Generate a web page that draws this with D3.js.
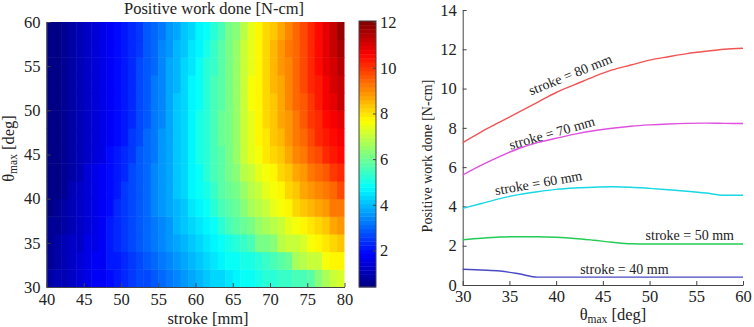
<!DOCTYPE html>
<html><head><meta charset="utf-8">
<script src="https://cdn.jsdelivr.net/npm/d3@7/dist/d3.min.js"></script>
<style>
html,body{margin:0;padding:0;background:#fff;}
svg text{font-family:"Liberation Serif","Times New Roman",serif;fill:#222;}
</style></head>
<body>
<svg id="chart" width="754" height="327"></svg>
<script>
// ---------- DATA ----------
const strokes = [40,41,42,43,44,45,46,47,48,49,50,51,52,53,54,55,56,57,58,59,60,61,62,63,64,65,66,67,68,69,70,71,72,73,74,75,76,77,78,79];
const thetas = [30,32,34,36,38,40,42,44,46,48,50,52,54,56,58];
const work30 = [0.8,0.95,1.1,1.25,1.4,1.55,1.7,1.85,2.0,2.15,2.3,2.45,2.6,2.75,2.9,3.1,3.25,3.4,3.6,3.75,3.95,4.1,4.25,4.4,4.55,4.75,4.85,4.95,5.05,5.15,5.3,5.4,5.45,5.5,5.6,5.7,6.3,6.7,7.0,7.2];
const work32 = [0.76,0.9,1.05,1.2,1.35,1.5,1.7,1.85,2.05,2.2,2.38,2.55,2.7,2.85,3.0,3.2,3.35,3.55,3.75,3.9,4.1,4.3,4.5,4.65,4.8,4.9,5.0,5.1,5.2,5.35,5.6,5.8,6.0,6.6,6.8,7.0,7.1,7.5,7.7,7.8];
const work34 = [0.72,0.86,1.0,1.15,1.3,1.5,1.65,1.85,2.05,2.25,2.44,2.6,2.8,2.95,3.15,3.35,3.55,3.75,3.95,4.15,4.35,4.55,4.75,4.9,5.1,5.3,5.45,5.6,6.1,6.2,6.4,6.8,7.0,7.1,7.25,7.6,7.75,7.9,8.2,8.35];
const work36 = [0.6,0.75,0.9,1.05,1.25,1.45,1.65,1.85,2.05,2.25,2.46,2.65,2.85,3.05,3.25,3.45,3.65,3.9,4.1,4.3,4.55,4.75,4.95,5.15,5.5,5.7,5.9,6.2,6.45,6.75,6.9,7.05,7.4,7.55,7.7,7.95,8.1,8.4,8.6,8.8];
const work38 = [0.42,0.6,0.78,0.98,1.18,1.4,1.6,1.82,2.02,2.24,2.46,2.68,2.9,3.1,3.32,3.54,3.76,4.0,4.22,4.46,4.7,4.95,5.2,5.5,5.8,6.0,6.3,6.6,6.9,7.1,7.35,7.6,7.85,8.1,8.3,8.5,8.75,8.95,9.15,9.3];
const work40 = [0.4,0.58,0.76,0.95,1.15,1.35,1.56,1.78,2.0,2.22,2.45,2.68,2.9,3.12,3.35,3.58,3.82,4.08,4.34,4.6,4.85,5.1,5.4,5.7,6.0,6.2,6.5,6.8,7.1,7.35,7.6,7.85,8.1,8.35,8.6,8.8,9.05,9.3,9.5,9.7];
const work42 = [0.4,0.57,0.75,0.93,1.12,1.32,1.52,1.73,1.95,2.17,2.4,2.63,2.86,3.1,3.34,3.58,3.84,4.1,4.37,4.64,4.92,5.2,5.5,5.8,6.1,6.4,6.8,7.1,7.35,7.6,7.85,8.1,8.4,8.65,8.9,9.15,9.4,9.65,9.9,10.1];
const work44 = [0.4,0.56,0.73,0.9,1.08,1.27,1.46,1.66,1.87,2.08,2.3,2.54,2.79,3.04,3.3,3.56,3.83,4.1,4.4,4.7,4.98,5.25,5.55,5.85,6.15,6.5,7.0,7.35,7.65,7.9,8.1,8.4,8.7,9.0,9.3,9.55,9.85,10.1,10.3,10.5];
const work46 = [0.4,0.55,0.71,0.87,1.04,1.22,1.4,1.6,1.8,2.0,2.2,2.45,2.7,2.97,3.24,3.52,3.8,4.1,4.4,4.7,5.0,5.3,5.6,5.9,6.2,6.55,7.05,7.4,7.7,8.0,8.25,8.55,8.85,9.15,9.45,9.75,10.05,10.3,10.55,10.75];
const work48 = [0.4,0.55,0.7,0.86,1.02,1.19,1.37,1.55,1.74,1.93,2.12,2.38,2.64,2.92,3.2,3.48,3.77,4.07,4.37,4.68,4.98,5.28,5.58,5.9,6.2,6.55,7.1,7.45,7.8,8.1,8.35,8.65,8.95,9.3,9.6,9.9,10.2,10.45,10.7,10.95];
const work50 = [0.4,0.55,0.7,0.85,1.01,1.18,1.36,1.54,1.72,1.91,2.1,2.36,2.62,2.9,3.18,3.46,3.75,4.05,4.35,4.65,4.95,5.25,5.55,5.85,6.2,6.55,7.1,7.5,7.85,8.15,8.4,8.7,9.0,9.35,9.65,9.95,10.3,10.6,10.9,11.15];
const work52 = [0.4,0.55,0.7,0.85,1.01,1.18,1.36,1.54,1.72,1.91,2.1,2.35,2.6,2.87,3.14,3.42,3.71,4.0,4.3,4.6,4.9,5.2,5.5,5.82,6.18,6.55,7.1,7.5,7.85,8.15,8.45,8.75,9.1,9.4,9.75,10.05,10.4,10.7,11.0,11.3];
const work54 = [0.4,0.55,0.7,0.85,1.01,1.18,1.36,1.54,1.72,1.91,2.1,2.34,2.59,2.85,3.12,3.4,3.68,3.97,4.26,4.55,4.85,5.15,5.45,5.8,6.15,6.5,7.05,7.45,7.8,8.15,8.45,8.8,9.1,9.45,9.8,10.1,10.45,10.8,11.1,11.45];
const work56 = [0.4,0.55,0.7,0.85,1.01,1.18,1.36,1.54,1.72,1.91,2.1,2.33,2.57,2.82,3.08,3.35,3.62,3.9,4.18,4.46,4.75,5.05,5.38,5.72,6.1,6.45,7.0,7.4,7.75,8.1,8.45,8.8,9.15,9.5,9.85,10.2,10.55,10.9,11.2,11.6];
const work58 = [0.4,0.55,0.7,0.85,1.01,1.18,1.36,1.54,1.72,1.91,2.1,2.32,2.55,2.79,3.04,3.3,3.56,3.83,4.1,4.36,4.65,4.95,5.3,5.65,6.05,6.4,6.95,7.35,7.7,8.05,8.4,8.75,9.1,9.45,9.8,10.15,10.5,10.85,11.2,11.7];
const workGrid = [work30,work32,work34,work36,work38,work40,work42,work44,work46,work48,work50,work52,work54,work56,work58];

const colorRange = [0.4, 12.05];
const colorbarTicks = [2,4,6,8,10,12];
const heatXTicks = [40,45,50,55,60,65,70,75,80];
const heatYTicks = [30,35,40,45,50,55,60];

const thetaLine = [30,32,34,36,38,40,42,44,46,48,50,52,54,56,58,60];
const stroke40 = [0.8,0.76,0.71,0.57,0.4,0.4,0.4,0.4,0.4,0.4,0.4,0.4,0.4,0.4,0.4,0.4];
const stroke50 = [2.3,2.38,2.44,2.46,2.46,2.43,2.37,2.28,2.18,2.1,2.09,2.09,2.09,2.09,2.09,2.09];
const stroke60 = [3.9,4.15,4.4,4.6,4.75,4.87,4.94,4.98,5.0,4.98,4.92,4.85,4.77,4.68,4.57,4.57];
const stroke70 = [5.6,6.1,6.55,6.95,7.25,7.47,7.68,7.85,7.98,8.08,8.15,8.2,8.23,8.24,8.23,8.22];
const stroke80 = [7.25,7.8,8.3,8.8,9.3,9.8,10.2,10.6,10.95,11.2,11.45,11.62,11.78,11.9,12.0,12.05];
const lineNames = ["stroke = 40 mm","stroke = 50 mm","stroke = 60 mm","stroke = 70 mm","stroke = 80 mm"];
const lineXTicks = [30,35,40,45,50,55,60];
const lineYTicks = [0,2,4,6,8,10,12,14];

// ---------- DRAW ----------
const svg = d3.select("#chart");
const FS = 16.5;
const SERIF = "'Liberation Serif','Times New Roman',serif";

function jet(t){
  t = Math.max(0, Math.min(0.99999, t));
  t = (Math.floor(t*64)+0.5)/64;
  const c = v => Math.round(255*Math.max(0, Math.min(1, v)));
  return `rgb(${c(1.5-Math.abs(4*t-3))},${c(1.5-Math.abs(4*t-2))},${c(1.5-Math.abs(4*t-1))})`;
}
const cNorm = d3.scaleLinear(colorRange, [0,1]);
const colorOf = v => jet(cNorm(v));

// Heatmap
const xH = d3.scaleLinear([40,80],[46.5,344.5]);
const yH = d3.scaleLinear([30,60],[287,22]);
const cells = [];
workGrid.forEach((row,i)=>row.forEach((v,j)=>cells.push({s:strokes[j], th:thetas[i], v})));
const gH = svg.append("g");
gH.selectAll("rect").data(cells).join("rect")
  .attr("x", d=>xH(d.s))
  .attr("y", d=>yH(d.th+2))
  .attr("width", d=>Math.min(xH(d.s+1)-xH(d.s)+0.5, xH(80)-xH(d.s)))
  .attr("height", d=>yH(d.th)-yH(d.th+2)+0.5)
  .attr("fill", d=>colorOf(d.v));

function styleAxis(g){
  g.attr("font-family", null).attr("font-size", null);
  g.selectAll(".domain").attr("stroke","#444");
  g.selectAll(".tick line").attr("stroke","#444");
  g.selectAll(".tick text").style("font-size",FS+"px").style("fill","#222")
    .style("font-family",SERIF);
}
const axXH = svg.append("g").attr("transform","translate(0,287)")
  .call(d3.axisBottom(xH).tickValues(heatXTicks).tickSizeInner(-4).tickSizeOuter(0).tickPadding(6));
styleAxis(axXH);
const axYH = svg.append("g").attr("transform","translate(46.5,0)")
  .call(d3.axisLeft(yH).tickValues(heatYTicks).tickSizeInner(-4).tickSizeOuter(0).tickPadding(6));
styleAxis(axYH);

svg.append("text").attr("x",214).attr("y",14).attr("text-anchor","middle")
  .style("font-size",FS+"px").text("Positive work done [N-cm]");
svg.append("text").attr("x",208).attr("y",323.5).attr("text-anchor","middle")
  .style("font-size",FS+"px").text("stroke [mm]");
const yl = svg.append("text").attr("transform","translate(13.5,148.5) rotate(-90)")
  .attr("text-anchor","middle").style("font-size",FS+"px");
yl.append("tspan").text("θ");
yl.append("tspan").style("font-size","11.5px").attr("dy",3.5).text("max");
yl.append("tspan").attr("dy",-3.5).text(" [deg]");

// Colorbar
const yC = d3.scaleLinear(colorRange,[287,21]);
const cbX = 359, cbW = 17;
const step = (colorRange[1]-colorRange[0])/64;
const levels = d3.range(64).map(i => colorRange[0] + step*i);
svg.append("g").selectAll("rect").data(levels).join("rect")
  .attr("x",cbX).attr("width",cbW)
  .attr("y",d=>yC(d+step)).attr("height",d=>yC(d)-yC(d+step)+0.4)
  .attr("fill",d=>colorOf(d+step/2));
svg.append("rect").attr("x",cbX).attr("y",yC(colorRange[1])).attr("width",cbW)
  .attr("height",yC(colorRange[0])-yC(colorRange[1])).attr("fill","none").attr("stroke","#444");
const axC = svg.append("g").attr("transform",`translate(${cbX+cbW},0)`)
  .call(d3.axisRight(yC).tickValues(colorbarTicks).tickSizeInner(-3).tickSizeOuter(0).tickPadding(4));
styleAxis(axC);
axC.select(".domain").remove();

// Line chart
const xL = d3.scaleLinear([30,60],[462.7,743]);
const yL = d3.scaleLinear([0,14],[285,10]);
const axXL = svg.append("g").attr("transform","translate(0,285)")
  .call(d3.axisBottom(xL).tickValues(lineXTicks).tickSizeInner(-4).tickSizeOuter(0).tickPadding(5));
styleAxis(axXL);
const axYL = svg.append("g").attr("transform","translate(462.7,0)")
  .call(d3.axisLeft(yL).tickValues(lineYTicks).tickSizeInner(-4).tickSizeOuter(0).tickPadding(6));
styleAxis(axYL);

const series = [
  {vals:stroke40, color:"#4a4ac4", lab:{th:47.3, v:0.56, rot:0}},
  {vals:stroke50, color:"#22cc55", lab:{th:54.3, v:2.29, rot:0}},
  {vals:stroke60, color:"#18d8e4", lab:{th:38.2, v:4.96, rot:-10}},
  {vals:stroke70, color:"#e050e0", lab:{th:39.7, v:7.51, rot:-16}},
  {vals:stroke80, color:"#f05555", lab:{th:41.7, v:10.49, rot:-22}}
];
const lineGen = d3.line().x((d,i)=>xL(thetaLine[i])).y(d=>yL(d)).curve(d3.curveMonotoneX);
series.forEach((s,k)=>{
  svg.append("path").attr("d", lineGen(s.vals)).attr("fill","none")
    .attr("stroke", s.color).attr("stroke-width",1.4);
  svg.append("text")
    .attr("transform",`translate(${xL(s.lab.th)},${yL(s.lab.v)}) rotate(${s.lab.rot})`)
    .attr("text-anchor","middle").style("font-size","14px").text(lineNames[k]);
});

svg.append("text").attr("x",613).attr("y",320).attr("text-anchor","middle").style("font-size",FS+"px")
  .call(t=>{t.append("tspan").text("θ");
            t.append("tspan").style("font-size","11.5px").attr("dy",3).text("max");
            t.append("tspan").attr("dy",-3).text(" [deg]");});
svg.append("text").attr("transform","translate(432,156) rotate(-90)")
  .attr("text-anchor","middle").style("font-size","14px").text("Positive work done [N-cm]");
</script>
</body></html>
